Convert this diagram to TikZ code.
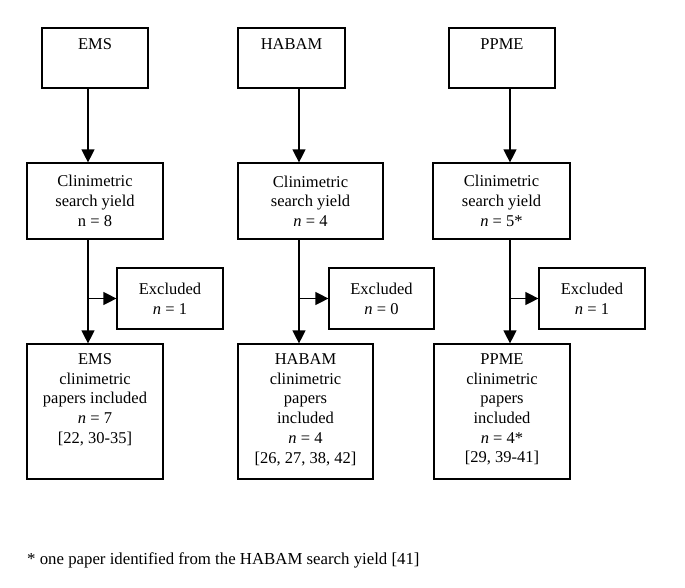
\documentclass[tikz,border=0pt]{standalone}
\usepackage{fontspec}
\setmainfont{Liberation Serif}
\usetikzlibrary{arrows.meta}
\tikzset{
	box/.style={draw, line width=1.2pt, align=center, inner sep=0pt, font=\fontsize{16.5}{19.7}\selectfont},
	boxtext/.style={anchor=north, align=center, inner sep=0pt, font=\fontsize{16.5}{19.7}\selectfont},
	arr/.style={line width=1.2pt, -{Triangle[length=13pt,width=13pt]}}
}

\begin{document}
\begin{tikzpicture}[x=1pt,y=-1pt]
		%%%%% START %%%%%
		
		\useasboundingbox (0, 0) rectangle (685, 587);
		
		\coordinate (colA) at (88, 0);
		\coordinate (colB) at (299, 0);
		\coordinate (colC) at (510, 0);
		
		\node[box, minimum width=106pt, minimum height=60pt] (ems) at (95, 58) {};
		\node[box, minimum width=107pt, minimum height=60pt] (habam) at (291.5, 58) {};
		\node[box, minimum width=106pt, minimum height=60pt] (ppme) at (502, 58) {};
		\node[boxtext] (emsT) at ([yshift=-11pt]ems.north) {EMS};
		\node[boxtext] (habamT) at ([yshift=-11pt]habam.north) {HABAM};
		\node[boxtext] (ppmeT) at ([yshift=-11pt]ppme.north) {PPME};
		
		\node[box, minimum width=136pt, minimum height=76pt] (yieldA) at (95, 201) {Clinimetric\\search yield\\n = 8};
		\node[box, minimum width=145pt, minimum height=76pt] (yieldB) at (310.5, 201) {Clinimetric\\search yield\\\textit{n} = 4};
		\node[box, minimum width=137pt, minimum height=76pt] (yieldC) at (501.5, 201) {Clinimetric\\search yield\\\textit{n} = 5*};
		
		\node[box, minimum width=106pt, minimum height=61pt] (exclA) at (170, 298.5) {Excluded\\\textit{n} = 1};
		\node[box, minimum width=105pt, minimum height=61pt] (exclB) at (381.5, 298.5) {Excluded\\\textit{n} = 0};
		\node[box, minimum width=106pt, minimum height=61pt] (exclC) at (592, 298.5) {Excluded\\\textit{n} = 1};
		
		\node[box, minimum width=136pt, minimum height=135pt] (inclA) at (95, 411.5) {};
		\node[box, minimum width=135pt, minimum height=135pt] (inclB) at (305.5, 411.5) {};
		\node[box, minimum width=136pt, minimum height=135pt] (inclC) at (502, 411.5) {};
		\node[boxtext] (inclAT) at ([yshift=-10pt]inclA.north) {EMS\\clinimetric\\papers included\\\textit{n} = 7\\{[}22, 30-35]};
		\node[boxtext] (inclBT) at ([yshift=-10pt]inclB.north) {HABAM\\clinimetric\\papers\\included\\\textit{n} = 4\\{[}26, 27, 38, 42]};
		\node[boxtext] (inclCT) at ([yshift=-10pt]inclC.north) {PPME\\clinimetric\\papers\\included\\\textit{n} = 4*\\{[}29, 39-41]};
		
		\draw[arr] (ems.south -| colA) -- (yieldA.north -| colA);
		\draw[arr] (habam.south -| colB) -- (yieldB.north -| colB);
		\draw[arr] (ppme.south -| colC) -- (yieldC.north -| colC);
		
		\draw[arr] (yieldA.south -| colA) -- (inclA.north -| colA);
		\draw[arr] (yieldB.south -| colB) -- (inclB.north -| colB);
		\draw[arr] (yieldC.south -| colC) -- (inclC.north -| colC);
		
		\draw[arr] (exclA.west -| colA) -- (exclA.west);
		\draw[arr] (exclB.west -| colB) -- (exclB.west);
		\draw[arr] (exclC.west -| colC) -- (exclC.west);
		
		\node[anchor=base west, inner sep=0pt, font=\fontsize{16.8}{20}\selectfont] (note) at (27, 564) {* one paper identified from the HABAM search yield [41]};
		
		%%%%% END %%%%%
\end{tikzpicture}
\end{document}
